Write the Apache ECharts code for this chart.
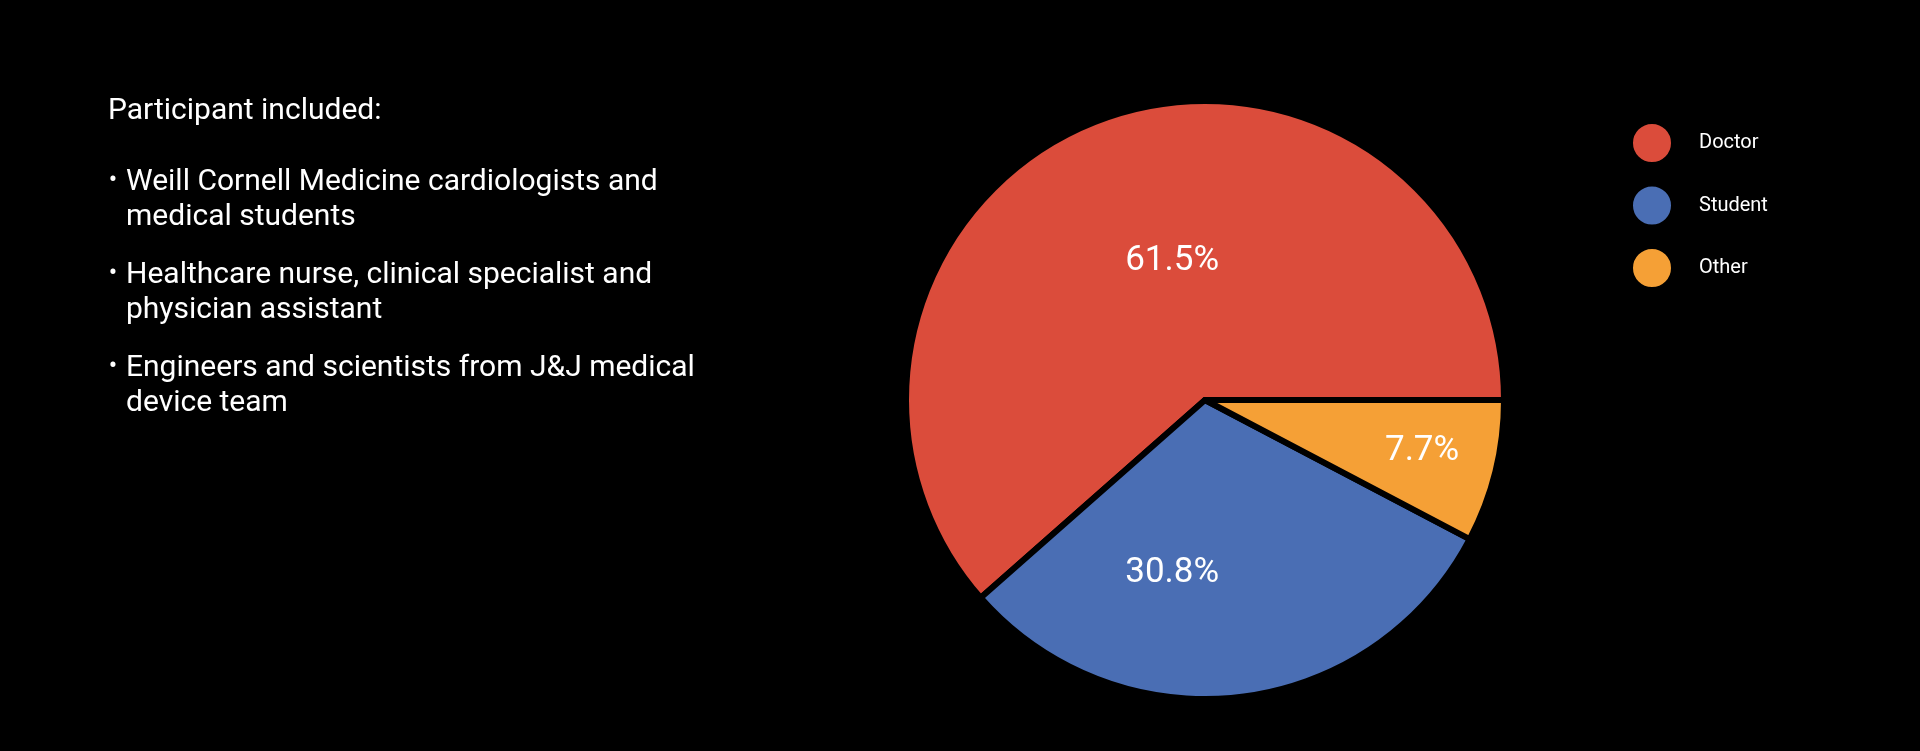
<!DOCTYPE html>
<html>
<head>
<meta charset="utf-8">
<script src="https://cdn.jsdelivr.net/npm/echarts@6/dist/echarts.min.js"></script>
<style>
  html, body { margin: 0; padding: 0; background: #000; }
  #pieChart { width: 1920px; height: 751px; }
</style>
</head>
<body>
<div id="pieChart"></div>
<script>
// chart data
const categories = ['Doctor', 'Student', 'Other']
const shares = [61.5, 30.8, 7.7]
const sliceColors = ['#db4c3b', '#4a6eb4', '#f5a036']
// nudges so the labels sit where the original put them
const labelOffsets = [[21, 4], [-51, 22], [69, 15]]

// text panel on the left
const heading = 'Participant included:'
const bullets = [
  ['Weill Cornell Medicine cardiologists and', 'medical students'],
  ['Healthcare nurse, clinical specialist and', 'physician assistant'],
  ['Engineers and scientists from J&J medical', 'device team']
]

const font = 'Roboto, "Noto Sans", sans-serif'

function buildTextPanel () {
  let items = [{
    type: 'text',
    x: 108,
    y: 111.5,
    style: { text: heading, fill: '#fff', font: '30px ' + font, verticalAlign: 'middle' }
  }]
  bullets.forEach((lines, i) => {
    let top = 182 + i * 93
    items.push({
      type: 'text',
      x: 113,
      y: top,
      style: { text: '•', fill: '#fff', font: '25px ' + font, align: 'center', verticalAlign: 'middle' }
    })
    lines.forEach((line, j) => {
      items.push({
        type: 'text',
        x: 126,
        y: top + j * 35,
        style: { text: line, fill: '#fff', font: '30px ' + font, verticalAlign: 'middle' }
      })
    })
  })
  return items
}

let charts = echarts.init(document.getElementById('pieChart'))
let options = {
  backgroundColor: '#000',
  animation: false,
  legend: {
    orient: 'vertical',
    left: 1631,
    top: 122,
    padding: 0,
    icon: 'circle',
    itemWidth: 40,
    itemHeight: 40,
    itemGap: 20.5,
    data: categories,
    textStyle: {
      color: '#fff',
      fontSize: 20,
      fontFamily: font,
      padding: [0, 0, 0, 22]
    }
  },
  graphic: buildTextPanel(),
  series: [
    {
      type: 'pie',
      center: [1205, 400],
      radius: 299,
      startAngle: 0,
      clockwise: false,
      avoidLabelOverlap: false,
      itemStyle: {
        borderColor: '#000',
        borderWidth: 6
      },
      label: {
        position: 'inside',
        formatter: '{c}%',
        color: '#fff',
        fontSize: 35,
        fontFamily: font
      },
      labelLine: { show: false },
      emphasis: { disabled: true },
      data: categories.map((name, i) => ({
        name: name,
        value: shares[i],
        itemStyle: { color: sliceColors[i] },
        label: { offset: labelOffsets[i] }
      }))
    }
  ]
}
charts.setOption(options)
</script>
</body>
</html>
